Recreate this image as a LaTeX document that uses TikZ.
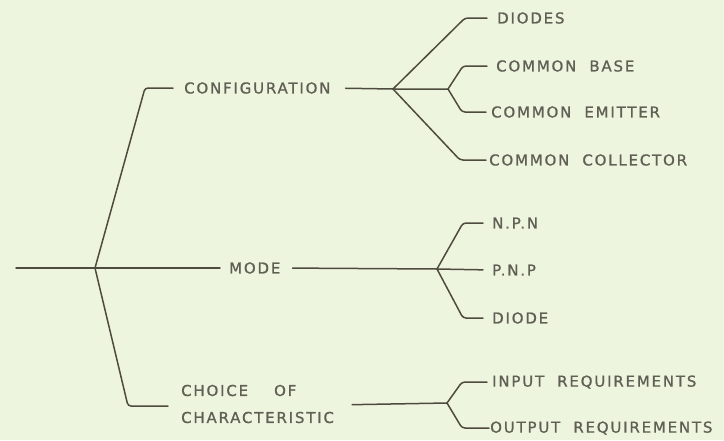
\documentclass[tikz,border=0pt]{standalone}
\usepackage{fontspec}
\newfontfamily\lab[LetterSpace=12,FakeBold=1]{DejaVu Sans}
\definecolor{paper}{RGB}{238,245,223}
\definecolor{ink}{RGB}{78,75,62}
\definecolor{letter}{RGB}{96,95,84}
\newcommand{\wgap}{\hspace{13pt}}
\begin{document}
\begin{tikzpicture}[x=1pt,y=-1pt,
  lab/.style={font=\lab\fontsize{15}{27}\selectfont, text=letter, inner sep=0pt, anchor=west},
  wire/.style={draw=ink, line width=1.5pt, rounded corners=3pt, line cap=round}]
\fill[paper] (0,0) rectangle (724,440);
\useasboundingbox (0,0) rectangle (724,440);

% junctions
\coordinate (root) at (16,268);
\coordinate (j0) at (95,268);
\coordinate (j1) at (393,89);
\coordinate (j2) at (448,89);
\coordinate (j3) at (437,269);
\coordinate (j4) at (447,403);

% first level
\node[lab] (config) at (184,88) {CONFIGURATION};
\node[lab] (mode) at (229,268) {MODE};
\node[lab, align=left] (choice) at (181,404) {CHOICE\wgap\wgap OF\\CHARACTERISTIC};

% second level
\node[lab] (diodes) at (497,18) {DIODES};
\node[lab] (cbase) at (496,66) {COMMON\wgap BASE};
\node[lab] (cemit) at (491,112) {COMMON\wgap EMITTER};
\node[lab] (ccoll) at (489,160) {COMMON\wgap COLLECTOR};
\node[lab] (npn) at (492,223) {N.P.N};
\node[lab] (pnp) at (492,270) {P.N.P};
\node[lab] (diode) at (492,318) {DIODE};
\node[lab] (input) at (492,382) {INPUT\wgap REQUIREMENTS};
\node[lab] (output) at (490,428) {OUTPUT\wgap REQUIREMENTS};

% trunk
\draw[wire] (root) -- (j0);
\draw[wire, shorten >=9pt] (j0) -- (mode.west);
\draw[wire] (j0) -- ([xshift=-39pt]config.west) -- ([xshift=-11pt]config.west);
\draw[wire] (j0) -- ([xshift=-53pt,yshift=-2pt]choice.west) -- ([xshift=-13pt,yshift=-2pt]choice.west);

% configuration branch
\draw[wire, shorten <=15pt] (config.east) -- (j1) -- (j2);
\draw[wire] (j1) -- ([xshift=-32pt]diodes.west) -- ([xshift=-10pt]diodes.west);
\draw[wire] (j1) -- ([xshift=-29pt]ccoll.west) -- ([xshift=-3pt]ccoll.west);
\draw[wire] (j2) -- ([xshift=-33pt]cbase.west) -- ([xshift=-9pt]cbase.west);
\draw[wire] (j2) -- ([xshift=-29pt]cemit.west) -- ([xshift=-5pt]cemit.west);

% mode branch
\draw[wire, shorten <=12pt] (mode.east) -- (j3);
\draw[wire, shorten >=9pt] (j3) -- (pnp.west);
\draw[wire] (j3) -- ([xshift=-29pt]npn.west) -- ([xshift=-9pt]npn.west);
\draw[wire] (j3) -- ([xshift=-29pt]diode.west) -- ([xshift=-9pt]diode.west);

% characteristic branch
\draw[wire, shorten <=18pt] ([yshift=-1pt]choice.east) -- (j4);
\draw[wire] (j4) -- ([xshift=-30pt]input.west) -- ([xshift=-5pt]input.west);
\draw[wire] (j4) -- ([xshift=-28pt]output.west) -- ([xshift=-1pt]output.west);
\end{tikzpicture}
\end{document}
